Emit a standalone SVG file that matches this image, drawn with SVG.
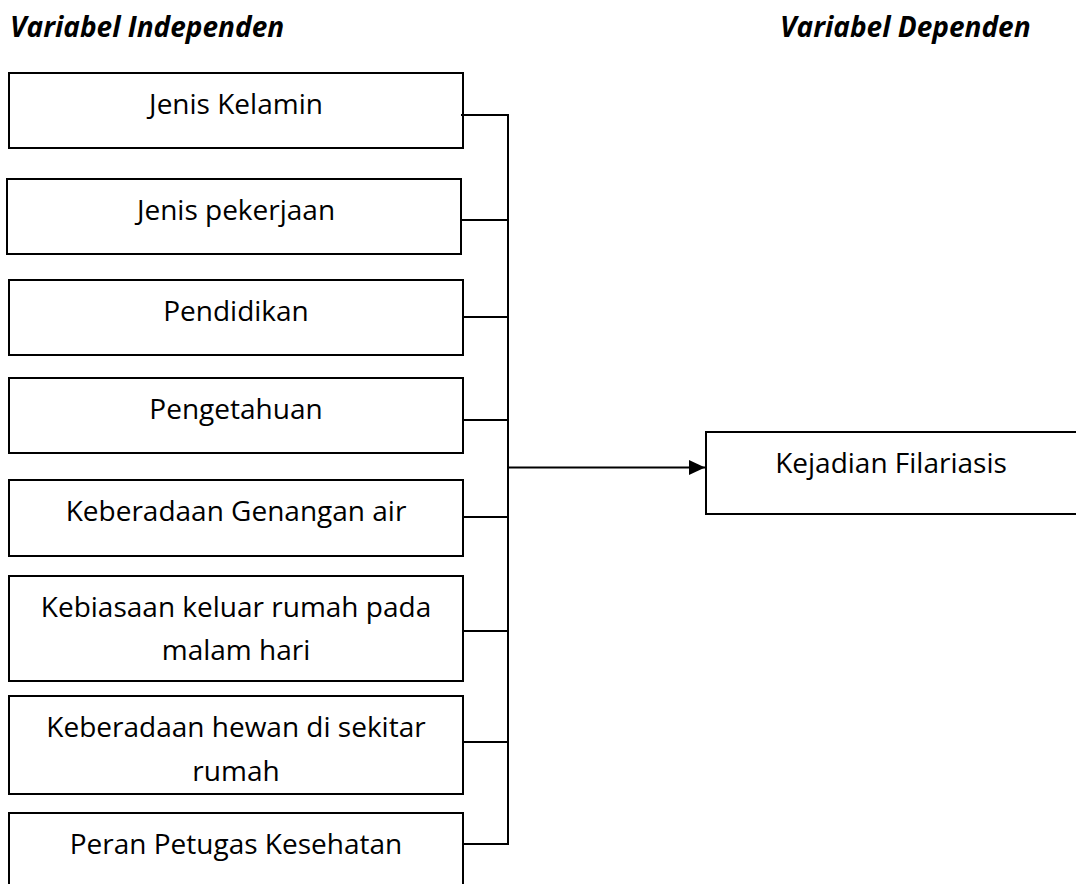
<svg xmlns="http://www.w3.org/2000/svg" width="1076" height="884" viewBox="0 0 1076 884">
<style>
.box{fill:#fff;stroke:#000;stroke-width:2}
.t{font-family:"Open Sans","Noto Sans",sans-serif;font-size:28px;fill:#000;text-anchor:middle}
.h{font-family:"Open Sans","Noto Sans",sans-serif;font-size:28px;font-weight:bold;font-style:italic;fill:#000}
.c{fill:none;stroke:#000;stroke-width:2}
</style>
<defs>
<marker id="arr" markerWidth="16" markerHeight="15" refX="16" refY="7.5" orient="auto" markerUnits="userSpaceOnUse">
<path d="M0,0 L16,7.5 L0,15 Z" fill="#000"/>
</marker>
</defs>
<rect width="1076" height="884" fill="#fff"/>
<text class="h" x="10" y="37">Variabel Independen</text>
<text class="h" x="780" y="37">Variabel Dependen</text>
<g id="n1"><rect class="box" x="9" y="73" width="454" height="75"/><text class="t" x="236" y="114">Jenis Kelamin</text></g>
<g id="n2"><rect class="box" x="7" y="179" width="454" height="75"/><text class="t" x="236" y="220">Jenis pekerjaan</text></g>
<g id="n3"><rect class="box" x="9" y="280" width="454" height="75"/><text class="t" x="236" y="321">Pendidikan</text></g>
<g id="n4"><rect class="box" x="9" y="378" width="454" height="75"/><text class="t" x="236" y="419">Pengetahuan</text></g>
<g id="n5"><rect class="box" x="9" y="480" width="454" height="76"/><text class="t" x="236" y="521">Keberadaan Genangan air</text></g>
<g id="n6"><rect class="box" x="9" y="576" width="454" height="105"/><text class="t" x="236" y="617">Kebiasaan keluar rumah pada</text><text class="t" x="236" y="660">malam hari</text></g>
<g id="n7"><rect class="box" x="9" y="696" width="454" height="98"/><text class="t" x="236" y="737">Keberadaan hewan di sekitar</text><text class="t" x="236" y="781">rumah</text></g>
<g id="n8"><rect class="box" x="9" y="813" width="454" height="90"/><text class="t" x="236" y="854">Peran Petugas Kesehatan</text></g>
<g id="n9"><rect class="box" x="706" y="432" width="374" height="82"/><text class="t" x="891" y="473">Kejadian Filariasis</text></g>
<g id="connectors">
<path class="c" d="M461,115 H508 M461,220 H508 M463,317 H508 M463,420 H508 M463,517 H508 M463,631 H508 M463,742 H508 M463,844 H509 M508,114 V845"/>
<path class="c" d="M508,467.5 H705" marker-end="url(#arr)"/>
</g>
</svg>
